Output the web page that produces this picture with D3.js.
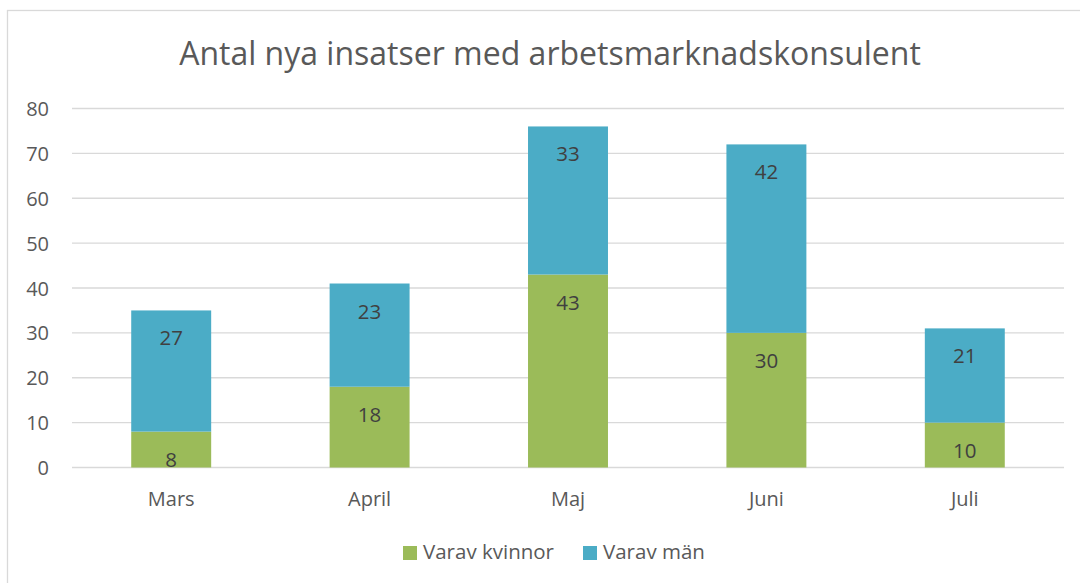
<!DOCTYPE html>
<html>
<head>
<meta charset="utf-8">
<script src="https://cdn.jsdelivr.net/npm/d3@7"></script>
<style>
  body { margin: 0; background: #fff; }
  svg text { font-family: "Open Sans", "Noto Sans", sans-serif; }
</style>
</head>
<body>
<svg id="chart"></svg>
<script>
// data
var months = ['Mars', 'April', 'Maj', 'Juni', 'Juli'];
var kvinnor = [8, 18, 43, 30, 10];
var man = [27, 23, 33, 42, 21];
var series_names = ['Varav kvinnor', 'Varav män'];
var series_colors = ['#9BBB59', '#4BACC6'];
var y_ticks = [0, 10, 20, 30, 40, 50, 60, 70, 80];
var title = 'Antal nya insatser med arbetsmarknadskonsulent';

var width = 1080, height = 583;
var text_color = '#595959';
var label_color = '#404040';
var grid_color = '#D9D9D9';

var svg = d3.select('#chart')
    .attr('width', width)
    .attr('height', height);

// outer chart border (cut off on the right and bottom in the reference)
svg.append('rect')
    .attr('x', 7.5).attr('y', 10.5)
    .attr('width', width + 20).attr('height', height + 20)
    .attr('fill', 'white')
    .attr('stroke', grid_color)
    .attr('stroke-width', 1.3);

// title
svg.append('text')
    .attr('x', 550)
    .attr('y', 65)
    .attr('text-anchor', 'middle')
    .attr('font-size', 32)
    .attr('fill', text_color)
    .text(title);

var x = d3.scaleBand()
    .domain(months)
    .range([72, 1064])
    .paddingInner(0.597)
    .paddingOuter(0.2985);

var y = d3.scaleLinear()
    .domain([0, 80])
    .range([467.5, 108.5]);

// gridlines
svg.append('g')
    .selectAll('line')
    .data(y_ticks)
    .join('line')
    .attr('x1', 72).attr('x2', 1064)
    .attr('y1', d => y(d)).attr('y2', d => y(d))
    .attr('stroke', grid_color)
    .attr('stroke-width', 1.3);

// y tick labels
svg.append('g')
    .selectAll('text')
    .data(y_ticks)
    .join('text')
    .attr('x', 49)
    .attr('y', d => y(d) + 7.5)
    .attr('text-anchor', 'end')
    .attr('font-size', 20)
    .attr('fill', text_color)
    .text(d => d);

// stacked data
var rows = months.map((m, i) => ({month: m, kvinnor: kvinnor[i], man: man[i]}));
var stack = d3.stack().keys(['kvinnor', 'man'])(rows);

stack.forEach(function(layer, k) {
    var g = svg.append('g');
    g.selectAll('rect')
        .data(layer)
        .join('rect')
        .attr('x', d => x(d.data.month))
        .attr('y', d => y(d[1]))
        .attr('width', x.bandwidth())
        .attr('height', d => y(d[0]) - y(d[1]))
        .attr('fill', series_colors[k]);
    // labels sit near the top of each segment
    g.selectAll('text')
        .data(layer)
        .join('text')
        .attr('x', d => x(d.data.month) + x.bandwidth() / 2)
        .attr('y', d => y(d[1]) + 35)
        .attr('text-anchor', 'middle')
        .attr('font-size', 20.5)
        .attr('fill', label_color)
        .text(d => d[1] - d[0]);
});

// category labels
svg.append('g')
    .selectAll('text')
    .data(months)
    .join('text')
    .attr('x', d => x(d) + x.bandwidth() / 2)
    .attr('y', 506)
    .attr('text-anchor', 'middle')
    .attr('font-size', 20)
    .attr('fill', text_color)
    .text(d => d);

// legend
var lx = 403;
series_names.forEach(function(name, i) {
    svg.append('rect')
        .attr('x', lx).attr('y', 546)
        .attr('width', 14).attr('height', 14)
        .attr('fill', series_colors[i]);
    var t = svg.append('text')
        .attr('x', lx + 20)
        .attr('y', 559)
        .attr('font-size', 20.5)
        .attr('fill', text_color)
        .text(name);
    lx = lx + 20 + t.node().getComputedTextLength() + 29;
});
</script>
</body>
</html>
